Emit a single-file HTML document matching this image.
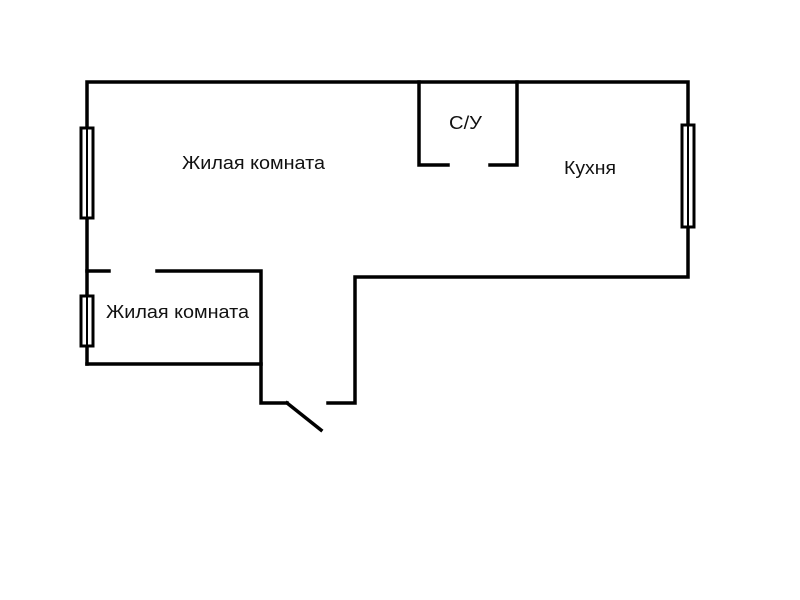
<!DOCTYPE html>
<html><head><meta charset="utf-8"><style>html,body{margin:0;padding:0;background:#fff}svg{display:block}</style></head>
<body>
<svg width="800" height="600" viewBox="0 0 800 600" xmlns="http://www.w3.org/2000/svg">
<g fill="none" stroke="#000" stroke-width="3.5" stroke-linecap="square">
<!-- outer -->
<polyline points="87,364 87,82 688,82 688,277 355,277 355,403 328,403"/>
<polyline points="87,271 109,271"/>
<polyline points="157,271 261,271 261,403 287,403"/>
<line x1="87" y1="364" x2="261" y2="364"/>
<line x1="287" y1="403" x2="321" y2="430"/>
<!-- bathroom -->
<polyline points="419,82 419,165 448,165"/>
<polyline points="490,165 517,165 517,82"/>
</g>
<g fill="#fff" stroke="#000" stroke-width="3">
<rect x="81" y="128" width="12" height="90"/>
<rect x="81" y="296" width="12" height="50"/>
<rect x="682" y="125" width="12" height="102"/>
</g>
<g stroke="#000" stroke-width="2">
<line x1="87" y1="128" x2="87" y2="218"/>
<line x1="87" y1="296" x2="87" y2="346"/>
<line x1="688" y1="125" x2="688" y2="227"/>
</g>
<g font-family="Liberation Sans, sans-serif" font-size="18" fill="#111">
<text x="182" y="169" textLength="143" lengthAdjust="spacingAndGlyphs">Жилая комната</text>
<text x="106" y="318" textLength="143" lengthAdjust="spacingAndGlyphs">Жилая комната</text>
<text x="449" y="129" textLength="33" lengthAdjust="spacingAndGlyphs">С/У</text>
<text x="564" y="174" textLength="52" lengthAdjust="spacingAndGlyphs">Кухня</text>
</g>
</svg>
</body></html>
